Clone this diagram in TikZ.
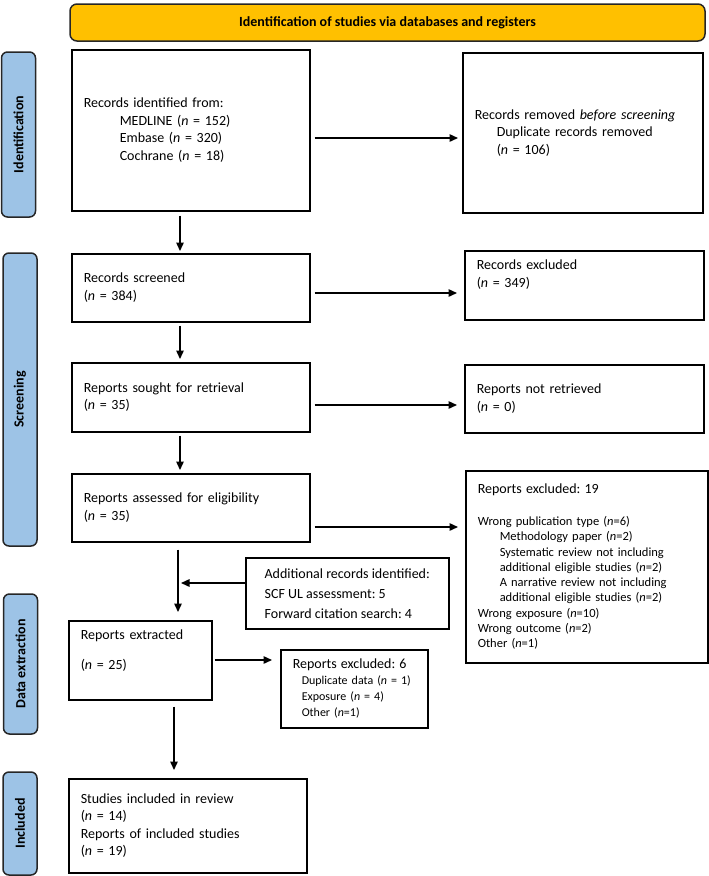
\documentclass[tikz,border=0pt]{standalone}
\usepackage{fontspec}
\setmainfont{Carlito}
\usetikzlibrary{arrows.meta}
\frenchspacing

\definecolor{headgold}{HTML}{FFC000}
\definecolor{phaseblue}{HTML}{9DC3E6}
\definecolor{edgedark}{HTML}{262626}

\tikzset{
	box/.style={draw=black, line width=1.5pt, anchor=north west, align=left, inner xsep=12pt, inner ysep=3pt, font=\fontsize{14}{17.5}\selectfont},
	phase/.style={draw=edgedark, fill=phaseblue, line width=1.5pt, rounded corners=6pt, rotate=90, minimum height=34pt, font=\bfseries\fontsize{14}{16}\selectfont},
	head/.style={draw=edgedark, fill=headgold, line width=1.5pt, rounded corners=7pt, minimum width=635pt, minimum height=37pt, font=\bfseries\fontsize{14}{16}\selectfont},
	flow/.style={line width=1.4pt, -{Triangle[length=8.5pt,width=7.5pt]}},
}

\begin{document}
\begin{tikzpicture}[x=1pt,y=-1pt]
	\useasboundingbox (0,0) rectangle (709,876);

	\node[head] (title) at (387.5,22.5) {Identification of studies via databases and registers};

	\node[phase, minimum width=165pt] (idphase) at (18.5,134.5) {Identification};
	\node[phase, minimum width=293pt] (scphase) at (20,399.5) {Screening};
	\node[phase, minimum width=140pt] (dxphase) at (20.5,664) {Data extraction};
	\node[phase, minimum width=103pt] (inphase) at (20,823.5) {Included};

	\node[box, minimum height=161pt, text width=214pt] (ident) at (71,49) {Records identified from:\\
		\hspace*{36pt}MEDLINE (\textit{n} = 152)\\
		\hspace*{36pt}Embase (\textit{n} = 320)\\
		\hspace*{36pt}Cochrane (\textit{n} = 18)};
	\node[box, minimum height=160pt, text width=216pt] (removed) at (462,52) {Records removed \textit{before screening}\\
		\hspace*{22pt}Duplicate records removed\\
		\hspace*{22pt}(\textit{n} = 106)};

	\node[box, minimum height=68pt, text width=214pt] (screened) at (71,253) {Records screened\\(\textit{n} = 384)};
	\node[box, minimum height=69pt, text width=215pt] (recexcl) at (464,250) {Records excluded\\(\textit{n} = 349)\\[6pt]\mbox{}};

	\node[box, minimum height=69pt, text width=214pt] (sought) at (71,362) {Reports sought for retrieval\\(\textit{n} = 35)};
	\node[box, minimum height=68pt, text width=215pt] (notretr) at (464,364) {Reports not retrieved\\(\textit{n} = 0)};

	\node[box, minimum height=68pt, text width=214pt] (assessed) at (71,473) {Reports assessed for eligibility\\(\textit{n} = 35)};
	\node[box, minimum height=192pt, text width=218pt, font=\fontsize{12.5}{15.3}\selectfont] (repexcl) at (465,470) {{\fontsize{14}{17}\selectfont Reports excluded: 19}\\[16.5pt]
		Wrong publication type (\textit{n}=6)\\
		\hspace*{22pt}Methodology paper (\textit{n}=2)\\
		\hspace*{22pt}Systematic review not including\\
		\hspace*{22pt}additional eligible studies (\textit{n}=2)\\
		\hspace*{22pt}A narrative review not including\\
		\hspace*{22pt}additional eligible studies (\textit{n}=2)\\
		Wrong exposure (\textit{n}=10)\\
		Wrong outcome (\textit{n}=2)\\
		Other (\textit{n}=1)};

	\node[box, minimum width=203pt, minimum height=71pt, font=\fontsize{14}{20}\selectfont] (addit) at (245,557) {Additional records identified:\\
		SCF UL assessment: 5\\
		Forward citation search: 4};

	\node[box, minimum height=79pt, text width=119pt] (extracted) at (68,620) {Reports extracted\\[12.5pt](\textit{n} = 25)\\[3pt]\mbox{}};
	\node[box, minimum height=78pt, text width=123pt, font=\fontsize{12}{16}\selectfont] (excl6) at (280,649) {{\fontsize{14}{16}\selectfont Reports excluded: 6}\\
		\hspace*{9pt}Duplicate data (\textit{n} = 1)\\
		\hspace*{9pt}Exposure (\textit{n} = 4)\\
		\hspace*{9pt}Other (\textit{n}=1)};

	\node[box, minimum height=94pt, text width=214pt] (included) at (68,778) {Studies included in review\\
		(\textit{n} = 14)\\
		Reports of included studies\\
		(\textit{n} = 19)};

	% columns and rows of the arrows
	\coordinate (colA) at (180,0);
	\coordinate (colB) at (178,0);
	\coordinate (colC) at (174,0);
	\coordinate (r1) at (0,138);
	\coordinate (r2) at (0,293);
	\coordinate (r3) at (0,405);
	\coordinate (r4) at (0,527);
	\coordinate (r5) at (0,583);
	\coordinate (r6) at (0,660);

	\draw[flow, shorten <=4pt, shorten >=2pt] (ident.south -| colA) -- (screened.north -| colA);
	\draw[flow, shorten <=3pt, shorten >=3pt] (screened.south -| colA) -- (sought.north -| colA);
	\draw[flow, shorten <=3pt, shorten >=3pt] (sought.south -| colA) -- (assessed.north -| colA);
	\draw[flow, shorten <=7pt, shorten >=8pt] (assessed.south -| colB) -- (extracted.north -| colB);
	\draw[flow, shorten <=6pt, shorten >=8pt] (extracted.south -| colC) -- (included.north -| colC);

	\draw[flow, shorten <=4pt, shorten >=4pt] (ident.east |- r1) -- (removed.west |- r1);
	\draw[flow, shorten <=4pt, shorten >=7pt] (screened.east |- r2) -- (recexcl.west |- r2);
	\draw[flow, shorten <=4pt, shorten >=7pt] (sought.east |- r3) -- (notretr.west |- r3);
	\draw[flow, shorten <=4pt, shorten >=7pt] (assessed.east |- r4) -- (repexcl.west |- r4);
	\draw[flow, shorten >=3pt] (addit.west |- r5) -- (colB |- r5);
	\draw[flow, shorten <=2pt, shorten >=8pt] (extracted.east |- r6) -- (excl6.west |- r6);
\end{tikzpicture}
\end{document}
